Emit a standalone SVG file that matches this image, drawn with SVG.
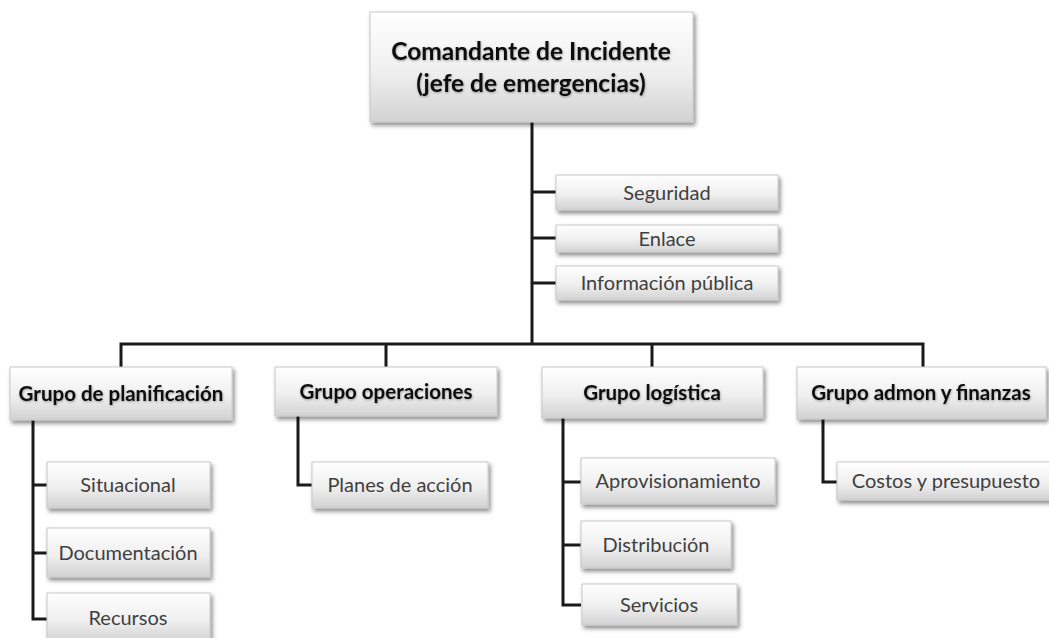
<svg xmlns="http://www.w3.org/2000/svg" width="1049" height="638" viewBox="0 0 1049 638">
<defs>
<linearGradient id="g" x1="0" y1="0" x2="0" y2="1">
<stop offset="0" stop-color="#ffffff"/>
<stop offset="0.55" stop-color="#efefef"/>
<stop offset="1" stop-color="#d2d2d2"/>
</linearGradient>
<filter id="sh" x="-10%" y="-20%" width="125%" height="160%">
<feDropShadow dx="2" dy="3" stdDeviation="2" flood-color="#000" flood-opacity="0.45"/>
</filter>
<filter id="ts" x="-5%" y="-20%" width="110%" height="150%">
<feDropShadow dx="0.5" dy="1" stdDeviation="0.8" flood-color="#000" flood-opacity="0.35"/>
</filter>
</defs>
<style>
.box{fill:url(#g);stroke:#c8c8c8;stroke-width:1;filter:url(#sh)}
.t{font-family:Lato,"Open Sans","Liberation Sans",sans-serif;text-anchor:middle}
.title{font-size:24.5px;font-weight:bold;fill:#111;filter:url(#ts)}
.grp{font-size:20.5px;font-weight:bold;fill:#111;filter:url(#ts)}
.sub{font-size:20px;fill:#404040}
.c{fill:none;stroke:#1a1a1a;stroke-width:3}
</style>
<rect width="1049" height="638" fill="#fff"/>
<g id="connectors">
<path class="c" d="M532 122V344M532 192H556M532 238H556M532 283H556"/>
<path class="c" d="M121 367V344H923V367M386 344V367M652 344V367"/>
<path class="c" d="M33 420V619H47M33 485H47M33 553H47"/>
<path class="c" d="M298 416V485H312"/>
<path class="c" d="M563 418V605H581M563 482H581M563 545H581"/>
<path class="c" d="M823 419V482H837"/>
</g>
<g id="comandante"><rect class="box" x="370" y="12" width="323" height="110"/><text class="t title" x="531" y="60">Comandante de Incidente</text><text class="t title" x="531" y="92">(jefe de emergencias)</text></g>
<g id="seguridad"><rect class="box" x="556" y="175" width="222" height="35"/><text class="t sub" x="667" y="199.5">Seguridad</text></g>
<g id="enlace"><rect class="box" x="556" y="225" width="222" height="27"/><text class="t sub" x="667" y="245.5">Enlace</text></g>
<g id="informacion"><rect class="box" x="556" y="266" width="222" height="34"/><text class="t sub" x="667" y="290">Información pública</text></g>
<g id="planificacion"><rect class="box" x="10" y="367" width="222" height="53"/><text class="t grp" x="121" y="400.5">Grupo de planificación</text></g>
<g id="operaciones"><rect class="box" x="275" y="367" width="222" height="49"/><text class="t grp" x="386" y="398.5">Grupo operaciones</text></g>
<g id="logistica"><rect class="box" x="542" y="367" width="221" height="51"/><text class="t grp" x="652" y="399.5">Grupo logística</text></g>
<g id="admon"><rect class="box" x="797" y="367" width="249" height="52"/><text class="t grp" x="921" y="400">Grupo admon y finanzas</text></g>
<g id="situacional"><rect class="box" x="47" y="462" width="163" height="46"/><text class="t sub" x="128" y="492">Situacional</text></g>
<g id="documentacion"><rect class="box" x="47" y="528" width="163" height="49"/><text class="t sub" x="128" y="559.5">Documentación</text></g>
<g id="recursos"><rect class="box" x="47" y="593" width="163" height="50"/><text class="t sub" x="128" y="625">Recursos</text></g>
<g id="planes"><rect class="box" x="312" y="462" width="176" height="46"/><text class="t sub" x="400" y="492">Planes de acción</text></g>
<g id="aprovisionamiento"><rect class="box" x="581" y="458" width="194" height="46"/><text class="t sub" x="678" y="488">Aprovisionamiento</text></g>
<g id="distribucion"><rect class="box" x="581" y="521" width="150" height="47"/><text class="t sub" x="656" y="551.5">Distribución</text></g>
<g id="servicios"><rect class="box" x="582" y="584" width="155" height="41"/><text class="t sub" x="659" y="611.5">Servicios</text></g>
<g id="costos"><rect class="box" x="837" y="462" width="215" height="38"/><text class="t sub" x="946" y="488">Costos y presupuesto</text></g>
</svg>
